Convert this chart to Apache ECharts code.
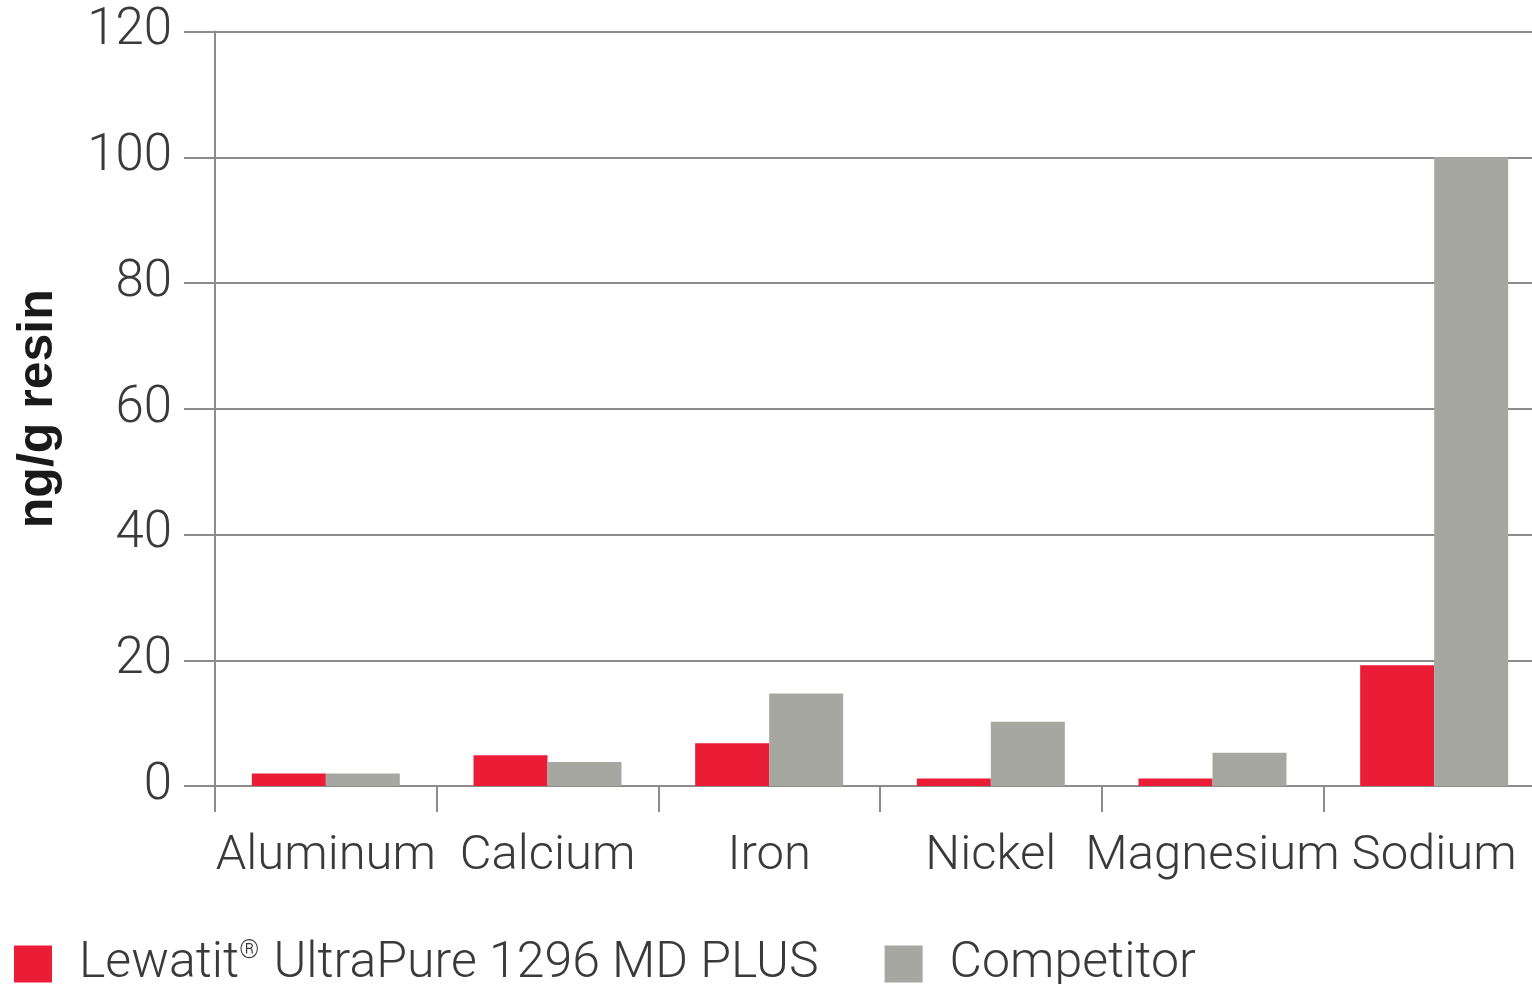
<!DOCTYPE html>
<html>
<head>
<meta charset="utf-8">
<script src="https://cdn.jsdelivr.net/npm/echarts@6/dist/echarts.min.js"></script>
<style>
html,body{margin:0;padding:0;background:#fff;}
#chart{width:1532px;height:984px;}
</style>
</head>
<body>
<div id="chart"></div>
<script>
const categories = ['Aluminum', 'Calcium', 'Iron', 'Nickel', 'Magnesium', 'Sodium'];
const lewatitName = 'Lewatit® UltraPure 1296 MD PLUS';
const competitorName = 'Competitor';
const lewatitValues = [2.0, 4.9, 6.8, 1.2, 1.2, 19.2];
const competitorValues = [2.0, 3.8, 14.7, 10.2, 5.3, 100];
const yMin = 0, yMax = 120, yStep = 20;
const yAxisTitle = 'ng/g resin';

const FONT = 'Roboto';
const TEXT = '#3a3a3a';
const LINE = '#8c8c8c';
const RED = '#EB1C36';
const GREY = '#A7A7A2';

const chart = echarts.init(document.getElementById('chart'));
chart.setOption({
  animation: false,
  backgroundColor: '#fff',
  grid: { left: 215, top: 31.5, width: 1330, height: 754.5, containLabel: false, outerBoundsMode: 'none' },
  legend: {
    left: 14, top: 939, padding: 0,
    icon: 'rect', itemWidth: 38, itemHeight: 37, itemGap: 66,
    data: [lewatitName, competitorName],
    formatter: function (n) {
      return n === lewatitName ? 'Lewatit{sup|®} UltraPure 1296 MD PLUS' : n;
    },
    textStyle: {
      fontFamily: FONT, fontWeight: 300, fontSize: 50, color: TEXT,
      padding: [0, 0, 0, 22],
      rich: { sup: { fontFamily: FONT, fontSize: 25, color: TEXT, verticalAlign: 'top', padding: [0, 2, 18, 0] } }
    }
  },
  xAxis: {
    type: 'category',
    data: categories,
    axisLine: { show: true, lineStyle: { color: LINE, width: 2 } },
    axisTick: { show: true, length: 26, lineStyle: { color: LINE, width: 2 } },
    axisLabel: { margin: 46, fontFamily: FONT, fontWeight: 300, fontSize: 49, color: TEXT, interval: 0 }
  },
  yAxis: {
    type: 'value',
    min: yMin, max: yMax, interval: yStep,
    name: yAxisTitle,
    nameLocation: 'middle',
    nameRotate: 90,
    nameGap: 152,
    nameTextStyle: { fontFamily: 'Liberation Sans', fontWeight: 'bold', fontSize: 50, color: '#1a1a1a' },
    axisLine: { show: true, lineStyle: { color: LINE, width: 2 } },
    axisTick: { show: true, length: 31, lineStyle: { color: LINE, width: 2 } },
    splitLine: { show: true, lineStyle: { color: LINE, width: 2 } },
    axisLabel: { margin: 43, fontFamily: FONT, fontWeight: 300, fontSize: 51, color: TEXT }
  },
  series: [
    { name: lewatitName, type: 'bar', data: lewatitValues, barWidth: 74, barGap: '0%', itemStyle: { color: RED } },
    { name: competitorName, type: 'bar', data: competitorValues, barWidth: 74, barGap: '0%', itemStyle: { color: GREY } }
  ]
});
</script>
</body>
</html>
